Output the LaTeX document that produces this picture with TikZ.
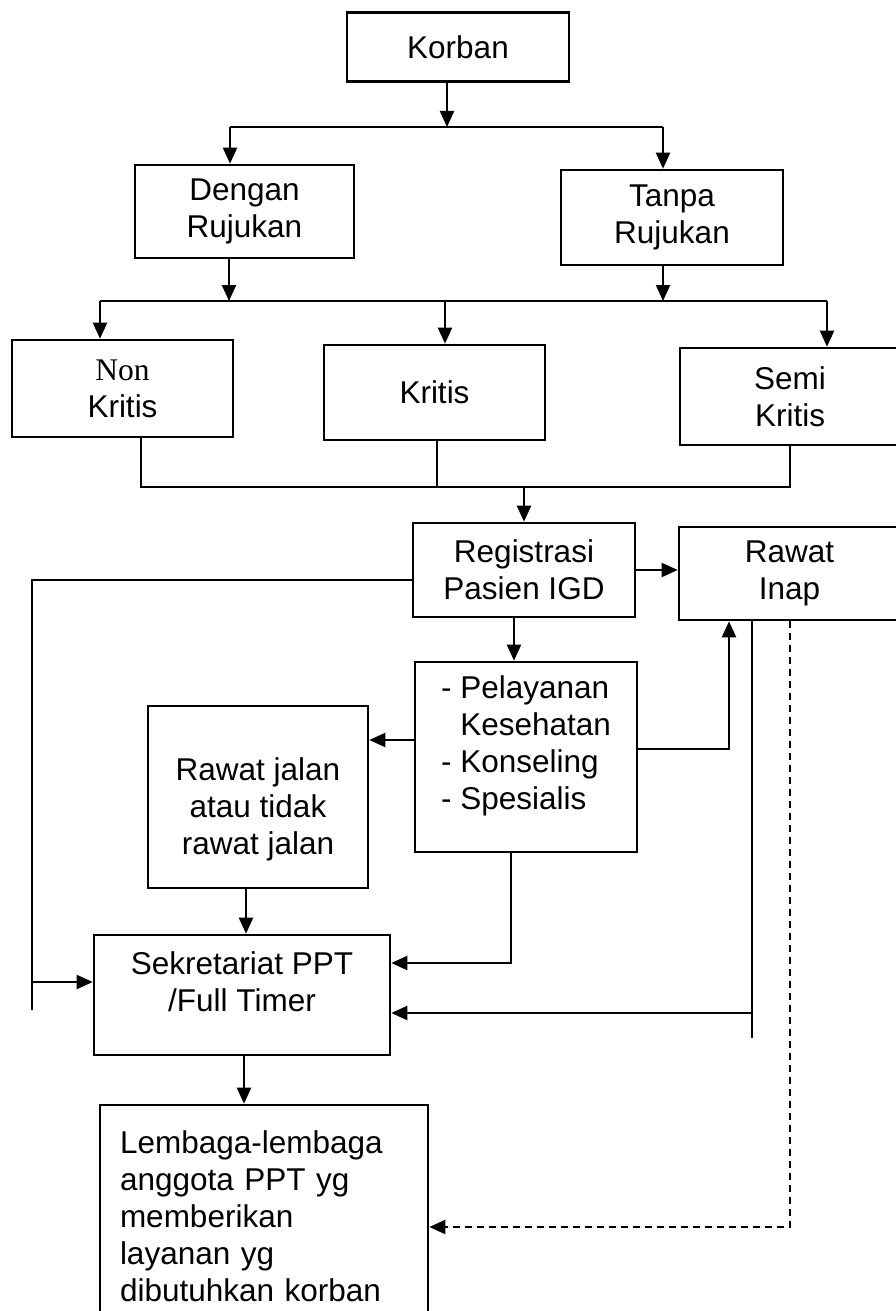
\documentclass[tikz,border=0pt]{standalone}
\usepackage{fontspec}
\setmainfont{Liberation Sans}
\newfontfamily\nonfont{Liberation Serif}
\usetikzlibrary{arrows.meta}
\begin{document}
\begin{tikzpicture}[x=1pt,y=-1pt,
  box/.style={draw,line width=2.6pt,rectangle,align=center,inner sep=0pt,font=\fontsize{31.5}{37}\selectfont},
  conn/.style={line width=2.2pt},
  arr/.style={conn,-{Triangle[length=16pt,width=14pt]}},
  darr/.style={arr,dash pattern=on 7pt off 5pt}]
\useasboundingbox (0,0) rectangle (896,1311);
\clip (0,0) rectangle (896,1311);
\fill[white] (0,0) rectangle (896,1311);
% boxes
\node[box,minimum width=222pt,minimum height=69pt] (korban) at (458,47) {Korban};
\node[box,minimum width=219pt,minimum height=93pt] (dengan) at (244.5,211.5) {Dengan\\Rujukan};
\node[box,minimum width=222pt,minimum height=95pt] (tanpa) at (672,217.5) {Tanpa\\Rujukan};
\node[box,minimum width=221pt,minimum height=97pt] (nonk) at (122.5,388.5) {{\nonfont Non}\\Kritis};
\node[box,minimum width=221pt,minimum height=95pt] (kritis) at (434.5,392.5) {Kritis};
\node[box,minimum width=220pt,minimum height=97pt] (semi) at (790,396.5) {Semi\\Kritis};
\node[box,minimum width=222pt,minimum height=94pt] (reg) at (524,570) {Registrasi\\Pasien IGD};
\node[box,minimum width=221pt,minimum height=93pt] (inap) at (789.5,573.5) {Rawat\\Inap};
\node[box,align=left,minimum width=222pt,minimum height=190pt] (pel) at (526,757)
  {-\ Pelayanan\\\phantom{-\ }Kesehatan\\-\ Konseling\\-\ Spesialis\rule[-29pt]{0pt}{0pt}};
\node[box,minimum width=220pt,minimum height=182pt] (jalan) at (258,797)
  {\rule{0pt}{48pt}Rawat jalan\\atau tidak\\rawat jalan};
\node[box,minimum width=296pt,minimum height=120pt] (sek) at (242,995)
  {Sekretariat PPT\\/Full Timer\rule[-26pt]{0pt}{0pt}};
\node[box,align=left,text width=288pt,minimum width=328pt,minimum height=222pt] (lem) at (264,1216)
  {Lembaga-lembaga\\anggota PPT yg\\memberikan\\layanan yg\\dibutuhkan korban};
% junction coordinates
\coordinate (j1) at (447,127);
\coordinate (h1l) at (230,127);
\coordinate (h1r) at (663,127);
\coordinate (h2l) at (100,301);
\coordinate (h2m) at (445,301);
\coordinate (h2r) at (827,301);
\coordinate (d2) at (229,301);
\coordinate (t2) at (663,301);
\coordinate (m1) at (141,487);
\coordinate (m2) at (437,487);
\coordinate (m3) at (790,487);
\coordinate (m4) at (524,487);
\coordinate (lft) at (32,580);
\coordinate (lfa) at (32,982);
\coordinate (lfb) at (32,1010);
\coordinate (rp) at (514,640);
\coordinate (pj) at (0,740);
\coordinate (pr) at (729,749);
\coordinate (js) at (246,900);
\coordinate (ps) at (511,963);
\coordinate (iv) at (752,1013);
\coordinate (ivb) at (752,1038);
\coordinate (dv) at (790,1227);
\coordinate (ss) at (244,1080);
% connectors
\draw[arr] (korban.south -| j1) -- (j1);
\draw[conn] (h1l) -- (h1r);
\draw[arr] (h1l) -- (h1l |- dengan.north);
\draw[arr] (h1r) -- (h1r |- tanpa.north);
\draw[arr] (dengan.south -| d2) -- (d2);
\draw[arr] (tanpa.south -| t2) -- (t2);
\draw[conn] (h2l) -- (h2r);
\draw[arr] (h2l) -- (h2l |- nonk.north);
\draw[arr] (h2m) -- (h2m |- kritis.north);
\draw[arr] (h2r) -- (h2r |- semi.north);
\draw[conn] (nonk.south -| m1) -- (m1) -- (m3) -- (semi.south -| m3);
\draw[conn] (kritis.south -| m2) -- (m2);
\draw[arr] (m4) -- (reg.north);
\draw[arr] (reg.east) -- (reg.east -| inap.west);
\draw[conn] (reg.west |- lft) -- (lft) -- (lfb);
\draw[arr] (lfa) -- (lfa -| sek.west);
\draw[arr] (reg.south -| rp) -- (rp |- pel.north);
\draw[arr] (pel.west |- pj) -- (jalan.east |- pj);
\draw[arr] (pel.east |- pr) -- (pr) -- (pr |- inap.south);
\draw[arr] (jalan.south -| js) -- (js |- sek.north);
\draw[arr] (pel.south -| ps) -- (ps) -- (ps -| sek.east);
\draw[conn] (inap.south -| iv) -- (ivb);
\draw[arr] (iv) -- (iv -| sek.east);
\draw[darr] (inap.south -| dv) -- (dv) -- (dv -| lem.east);
\draw[arr] (sek.south -| ss) -- (ss |- lem.north);
\end{tikzpicture}
\end{document}
